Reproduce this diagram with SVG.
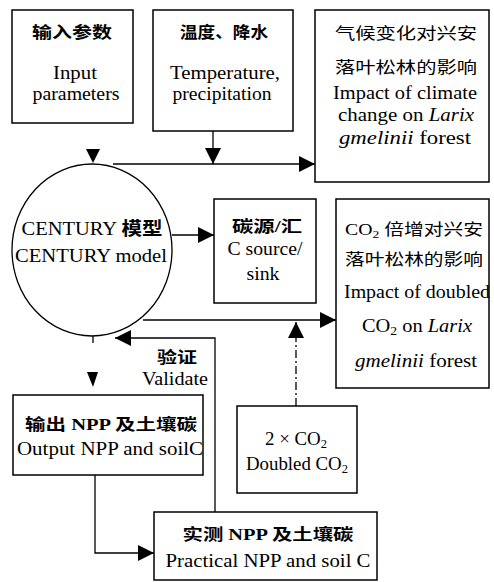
<svg xmlns="http://www.w3.org/2000/svg" width="494" height="582" viewBox="0 0 494 582">
<style>
.box{fill:#fff;stroke:#000;stroke-width:1.5}
.ln{fill:none;stroke:#000;stroke-width:1.3}
.t{font-family:'Liberation Serif','Times New Roman','Noto Sans CJK SC',serif;font-size:18px;fill:#000}
.c{font-family:'Liberation Serif','Noto Sans CJK SC',serif;font-size:16px;fill:#000}
.b{font-weight:bold}
.i{font-style:italic}
.ah{fill:#000}
</style>
<defs>
<marker id="arr" markerUnits="userSpaceOnUse" markerWidth="16" markerHeight="16" refX="16" refY="8" orient="auto">
<path d="M0,0 L16,8 L0,16 z" fill="#000"/>
</marker>
</defs>
<rect width="494" height="582" fill="#fff"/>
<g id="connectors">
<path class="ln" d="M213,131 V164" marker-end="url(#arr)"/>
<path class="ln" d="M113,164 H315" marker-end="url(#arr)"/>
<polygon class="ah" points="86,149 100,149 93,163"/>
<path class="ln" d="M172,235 H214" marker-end="url(#arr)"/>
<path class="ln" d="M143,320 H336" marker-end="url(#arr)"/>
<path class="ln" d="M296,406 V322" stroke-dasharray="8,3,2,3" marker-end="url(#arr)"/>
<path class="ln" d="M215,512 V338 H115" marker-end="url(#arr)"/>
<path class="ln" d="M93,336 V343"/>
<polygon class="ah" points="87,372 98,372 93,387"/>
<path class="ln" d="M95,475 V553 H154" marker-end="url(#arr)"/>
</g>
<g id="n-input">
<rect class="box" x="12" y="10" width="121" height="113"/>
<text class="c b" x="72" y="38" text-anchor="middle" textLength="80" lengthAdjust="spacingAndGlyphs">输入参数</text>
<text class="t" x="75" y="79" text-anchor="middle" textLength="44" lengthAdjust="spacingAndGlyphs">Input</text>
<text class="t" x="76" y="100" text-anchor="middle" textLength="87" lengthAdjust="spacingAndGlyphs">parameters</text>
</g>
<g id="n-temp">
<rect class="box" x="153" y="10" width="140" height="121"/>
<text class="c b" x="224" y="38" text-anchor="middle" textLength="88" lengthAdjust="spacingAndGlyphs">温度、降水</text>
<text class="t" x="225" y="79" text-anchor="middle" textLength="110" lengthAdjust="spacingAndGlyphs">Temperature,</text>
<text class="t" x="222" y="100" text-anchor="middle" textLength="99" lengthAdjust="spacingAndGlyphs">precipitation</text>
</g>
<g id="n-climate">
<rect class="box" x="315" y="10" width="174" height="172"/>
<text class="c" x="406" y="39" text-anchor="middle" textLength="142" lengthAdjust="spacingAndGlyphs">气候变化对兴安</text>
<text class="c" x="406" y="73" text-anchor="middle" textLength="142" lengthAdjust="spacingAndGlyphs">落叶松林的影响</text>
<text class="t" x="405" y="99" text-anchor="middle" textLength="144" lengthAdjust="spacingAndGlyphs">Impact of climate</text>
<text class="t" x="406" y="121" text-anchor="middle" textLength="136" lengthAdjust="spacingAndGlyphs">change on <tspan class="i">Larix</tspan></text>
<text class="t" x="405" y="144" text-anchor="middle" textLength="132" lengthAdjust="spacingAndGlyphs"><tspan class="i">gmelinii</tspan> forest</text>
</g>
<g id="n-century">
<ellipse cx="92" cy="250" rx="80" ry="86" fill="#fff" stroke="#000" stroke-width="1.3"/>
<text class="t" x="92" y="235" text-anchor="middle" textLength="141" lengthAdjust="spacingAndGlyphs">CENTURY <tspan class="b">模型</tspan></text>
<text class="t" x="91" y="262" text-anchor="middle" textLength="152" lengthAdjust="spacingAndGlyphs">CENTURY model</text>
</g>
<g id="n-csource">
<rect class="box" x="214" y="199" width="102" height="104"/>
<text class="c b" x="267" y="232" text-anchor="middle" textLength="70" lengthAdjust="spacingAndGlyphs">碳源/汇</text>
<text class="t" x="265" y="255" text-anchor="middle" textLength="75" lengthAdjust="spacingAndGlyphs">C source/</text>
<text class="t" x="263" y="280" text-anchor="middle" textLength="33" lengthAdjust="spacingAndGlyphs">sink</text>
</g>
<g id="n-co2impact">
<rect class="box" x="336" y="199" width="153" height="189"/>
<text class="c" x="414" y="235" text-anchor="middle" textLength="138" lengthAdjust="spacingAndGlyphs">CO<tspan font-size="11" dy="3">2</tspan><tspan dy="-3"> 倍增对兴安</tspan></text>
<text class="c" x="414" y="265" text-anchor="middle" textLength="138" lengthAdjust="spacingAndGlyphs">落叶松林的影响</text>
<text class="t" x="417" y="298" text-anchor="middle" textLength="146" lengthAdjust="spacingAndGlyphs">Impact of doubled</text>
<text class="t" x="417" y="332" text-anchor="middle" textLength="110" lengthAdjust="spacingAndGlyphs">CO<tspan font-size="12" dy="3">2</tspan><tspan dy="-3"> on </tspan><tspan class="i">Larix</tspan></text>
<text class="t" x="416" y="367" text-anchor="middle" textLength="122" lengthAdjust="spacingAndGlyphs"><tspan class="i">gmelinii</tspan> forest</text>
</g>
<g id="l-validate">
<text class="c b" x="177" y="363" text-anchor="middle" textLength="40" lengthAdjust="spacingAndGlyphs">验证</text>
<text class="t" x="175" y="385" text-anchor="middle" textLength="66" lengthAdjust="spacingAndGlyphs">Validate</text>
</g>
<g id="n-output">
<rect class="box" x="13" y="395" width="190" height="80"/>
<text class="c b" x="111" y="430" text-anchor="middle" textLength="172" lengthAdjust="spacingAndGlyphs">输出 NPP 及土壤碳</text>
<text class="t" x="110" y="455" text-anchor="middle" textLength="186" lengthAdjust="spacingAndGlyphs">Output NPP and soilC</text>
</g>
<g id="n-doubled">
<rect class="box" x="237" y="406" width="120" height="87"/>
<text class="t" x="296" y="445" text-anchor="middle" textLength="62" lengthAdjust="spacingAndGlyphs">2 × CO<tspan font-size="12" dy="3">2</tspan></text>
<text class="t" x="297" y="470" text-anchor="middle" textLength="102" lengthAdjust="spacingAndGlyphs">Doubled CO<tspan font-size="12" dy="3">2</tspan></text>
</g>
<g id="n-practical">
<rect class="box" x="154" y="512" width="223" height="68"/>
<text class="c b" x="268" y="540" text-anchor="middle" textLength="171" lengthAdjust="spacingAndGlyphs">实测 NPP 及土壤碳</text>
<text class="t" x="268" y="567" text-anchor="middle" textLength="205" lengthAdjust="spacingAndGlyphs">Practical NPP and soil C</text>
</g>
</svg>
